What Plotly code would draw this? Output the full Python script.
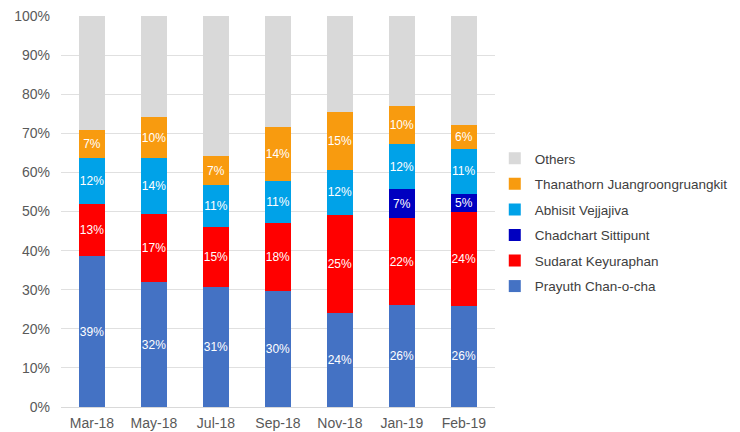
import plotly.graph_objects as go

months = ["Mar-18", "May-18", "Jul-18", "Sep-18", "Nov-18", "Jan-19", "Feb-19"]
prayuth = [38.6, 31.9, 30.8, 29.6, 24.0, 26.1, 25.9]
sudarat = [13.2, 17.4, 15.3, 17.5, 25.1, 22.2, 24.1]
chadchart = [0, 0, 0, 0, 0, 7.4, 4.6]
abhisit = [12.0, 14.4, 10.6, 10.6, 11.6, 11.6, 11.4]
thanathorn = [7.0, 10.4, 7.4, 13.9, 14.7, 9.6, 6.0]
others = [round(100 - a - b - c - d - e, 1) for a, b, c, d, e in zip(prayuth, sudarat, chadchart, abhisit, thanathorn)]

series = [
    ("Prayuth Chan-o-cha", prayuth, "#4472C4", True),
    ("Sudarat Keyuraphan", sudarat, "#FF0000", True),
    ("Chadchart Sittipunt", chadchart, "#0000C0", True),
    ("Abhisit Vejjajiva", abhisit, "#00A2E8", True),
    ("Thanathorn Juangroongruangkit", thanathorn, "#F89B0F", True),
    ("Others", others, "#D9D9D9", False),
]

fig = go.Figure()
n = len(series)
for i, (name, vals, color, lab) in enumerate(series):
    texts = [f"{v:.0f}%" if (lab and v > 0) else "" for v in vals]
    fig.add_trace(go.Bar(
        x=months, y=vals, name=name, legendgroup=name, legendrank=n - i,
        marker=dict(color=color, line=dict(width=0)),
        text=texts, textposition="inside", insidetextanchor="middle", textangle=0,
        constraintext="none",
        textfont=dict(color="white", size=12, family="Liberation Sans"),
        hoverinfo="skip",
    ))

# page body has an 8px margin, so the figure is sized to fit the 740x432 window
fig.update_layout(
    barmode="stack", bargap=0.59,
    width=732, height=424,
    margin=dict(l=53, r=239, t=8, b=25),
    paper_bgcolor="white", plot_bgcolor="white",
    font=dict(family="Liberation Sans", color="#595959", size=14),
    legend=dict(
        traceorder="grouped", xref="container", yref="container",
        x=0.665, xanchor="left", y=0.494, yanchor="middle",
        font=dict(size=13.5, color="#404040"), itemwidth=30, tracegroupgap=5,
    ),
    showlegend=True,
)
fig.update_yaxes(range=[0, 100], tickvals=list(range(0, 101, 10)),
                 ticktext=[f"{v}%" for v in range(0, 101, 10)],
                 showgrid=True, gridcolor="#E0E0E0", zeroline=False, automargin=False,
                 ticklabeloverflow="allow", ticklabelstandoff=10,
                 ticks="", ticklen=0, tickfont=dict(size=14, color="#595959"))
fig.update_xaxes(showline=True, linecolor="#D9D9D9", linewidth=1, ticks="", automargin=False,
                 ticklabeloverflow="allow", ticklabelstandoff=3,
                 tickfont=dict(size=14, color="#595959"))

fig.write_html("out.html")
